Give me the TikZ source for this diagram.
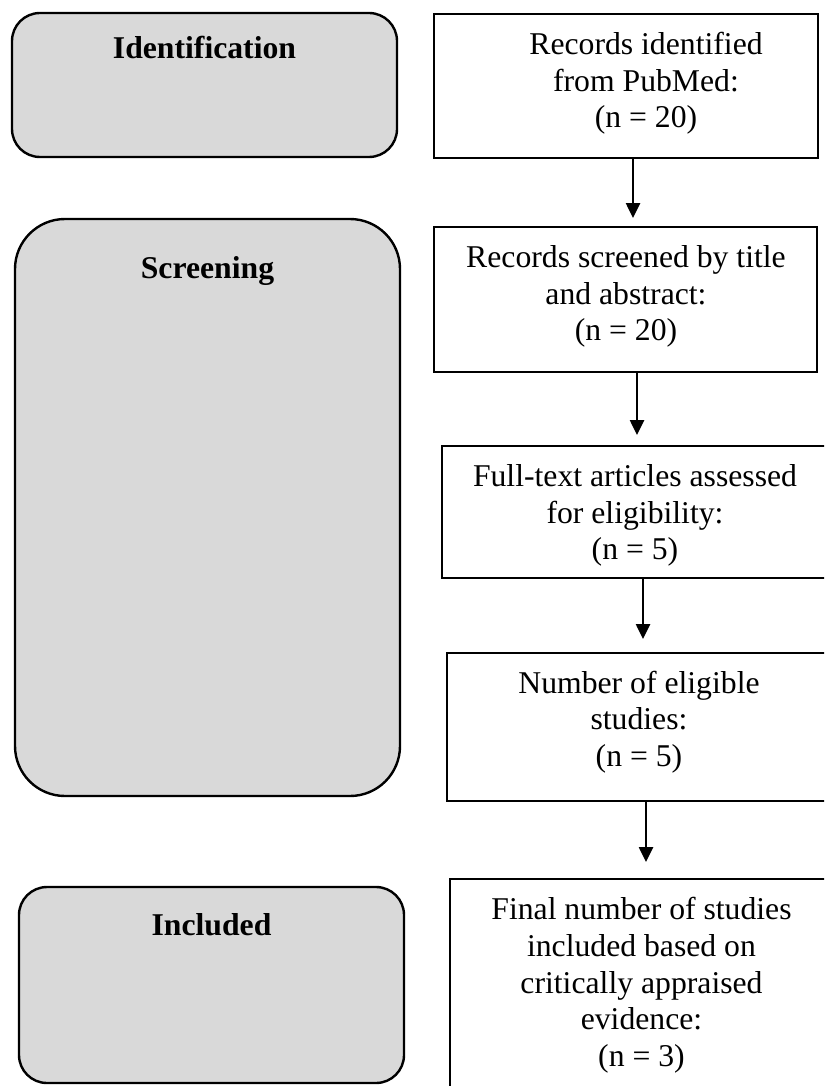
\documentclass[tikz,border=0pt]{standalone}
\usepackage{fontspec}
\setmainfont{Liberation Serif}
\usetikzlibrary{arrows.meta}
\definecolor{boxgray}{HTML}{D9D9D9}
\begin{document}
\begin{tikzpicture}[x=1pt,y=-1pt,
  stagebox/.style={draw=black, line width=2.4pt, fill=boxgray, inner sep=0pt, outer sep=0pt},
  flowbox/.style={draw=black, line width=2.6pt, fill=white, inner sep=0pt, outer sep=0pt},
  stagelabel/.style={font=\fontsize{31.7pt}{36.7pt}\selectfont\bfseries, anchor=base, inner sep=0pt},
  flowtext/.style={font=\fontsize{31.7pt}{36.7pt}\selectfont, align=center, inner sep=0pt},
  arr/.style={line width=2.6pt, -{Triangle[width=14pt,length=15pt]}}
]
\useasboundingbox (0,0) rectangle (824,1086);
\clip (0,0) rectangle (824,1086);

% stage boxes (left)
\node[stagebox, rounded corners=28pt, minimum width=385pt, minimum height=144pt] (ident) at (204.5,85) {};
\node[stagebox, rounded corners=50pt, minimum width=385pt, minimum height=577pt] (screen) at (207.5,507.5) {};
\node[stagebox, rounded corners=28pt, minimum width=385pt, minimum height=196pt] (incl) at (211.5,985) {};
\node[stagelabel] (identlbl) at (204.5,59) {Identification};
\node[stagelabel] (screenlbl) at (207.5,278) {Screening};
\node[stagelabel] (incllbl) at (211.5,935) {Included};

% flow boxes (right)
\node[flowbox, minimum width=384pt, minimum height=144pt] (b1) at (626,86) {};
\node[flowbox, minimum width=383pt, minimum height=145pt] (b2) at (625.5,299.5) {};
\node[flowbox, minimum width=386pt, minimum height=132pt] (b3) at (635,512) {};
\node[flowbox, minimum width=384pt, minimum height=148pt] (b4) at (639,727) {};
\node[flowbox, minimum width=383pt, minimum height=214pt] (b5) at (641.5,986) {};

\node[flowtext] (t1) at (646,83.5) {Records identified\\from PubMed:\\(n = 20)};
\node[flowtext] (t2) at (626,296.5) {Records screened by title\\and abstract:\\(n = 20)};
\node[flowtext] (t3) at (635,515.5) {Full-text articles assessed\\for eligibility:\\(n = 5)};
\node[flowtext] (t4) at (639,722) {Number of eligible\\studies:\\(n = 5)};
\node[flowtext] (t5) at (641.5,985.5) {Final number of studies\\included based on\\critically appraised\\evidence:\\(n = 3)};

% arrows
\coordinate (e1) at (633,218);
\coordinate (e2) at (637,435);
\coordinate (e3) at (643,639);
\coordinate (e4) at (646,862);
\draw[arr] (b1.south -| e1) -- (e1);
\draw[arr] (b2.south -| e2) -- (e2);
\draw[arr] (b3.south -| e3) -- (e3);
\draw[arr] (b4.south -| e4) -- (e4);
\end{tikzpicture}
\end{document}
